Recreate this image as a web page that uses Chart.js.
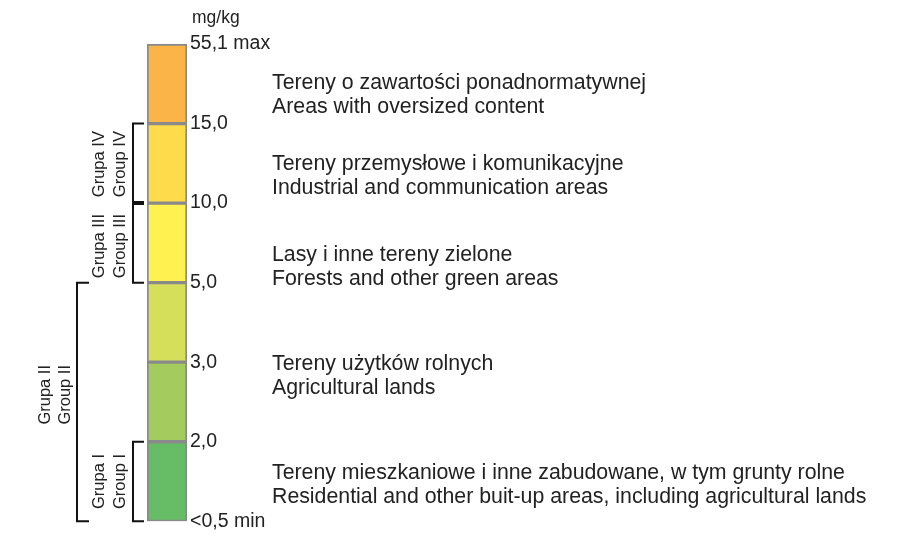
<!DOCTYPE html>
<html>
<head>
<meta charset="utf-8">
<script src="https://cdn.jsdelivr.net/npm/chart.js@4.4.1/dist/chart.umd.min.js"></script>
<style>
  html, body { margin: 0; padding: 0; background: #ffffff; }
  #wrap { width: 905px; height: 536px; position: relative; }
</style>
</head>
<body>
<div id="wrap"><canvas id="scale"></canvas></div>
<script>
// Klassen (von unten nach oben), jede Klasse gleich hoch
const bandNames  = ['< 2,0', '2,0–3,0', '3,0–5,0', '5,0–10,0', '10,0–15,0', '15,0–55,1'];
const bandHeight = [1, 1, 1, 1, 1, 1];
const bandColors = ['#67bd66', '#a3cb5e', '#d5df5a', '#fff250', '#fedb4a', '#fbb546'];

// Beschriftung der Grenzen (Index = Wert auf der y-Achse)
const tickLabels = ['<0,5 min', '2,0', '3,0', '5,0', '10,0', '15,0', '55,1 max'];

// Beschreibungen rechts (Position in Achsen-Einheiten)
const descPL = [
  'Tereny mieszkaniowe i inne zabudowane, w tym grunty rolne',
  'Tereny użytków rolnych',
  'Lasy i inne tereny zielone',
  'Tereny przemysłowe i komunikacyjne',
  'Tereny o zawartości ponadnormatywnej'
];
const descEN = [
  'Residential and other buit-up areas, including agricultural lands',
  'Agricultural lands',
  'Forests and other green areas',
  'Industrial and communication areas',
  'Areas with oversized content'
];
const descAt = [0.46, 1.83, 3.2, 4.34, 5.36];

// Gruppen (Klammern links)
const groupPL   = ['Grupa I', 'Grupa II', 'Grupa III', 'Grupa IV'];
const groupEN   = ['Group I', 'Group II', 'Group III', 'Group IV'];
const groupFrom = [0, 0, 3, 4];
const groupTo   = [1, 3, 4, 5];
const groupAt   = [0.5, 1.59, 3.46, 4.49];

// Layout der Klammern (Pixel)
const BRACKET = {
  inner: { x: 133, tip: 144, textPL: 99, textEN: 120 },
  outer: { x: 77,  tip: 89,  textPL: 45, textEN: 65 }
};

const FONT = '"Liberation Sans", Arial, sans-serif';

const annotations = {
  id: 'annotations',
  afterDraw(chart) {
    const ctx = chart.ctx;
    const y = chart.scales.y;
    ctx.save();
    ctx.fillStyle = '#222222';

    // Einheit
    ctx.font = '17.5px ' + FONT;
    ctx.textAlign = 'left';
    ctx.textBaseline = 'middle';
    ctx.fillText('mg/kg', 192, 18);

    // Beschreibungen
    ctx.font = '21.3px ' + FONT;
    descPL.forEach((t, i) => {
      const cy = y.getPixelForValue(descAt[i]);
      ctx.fillText(t, 272, cy - 12);
      ctx.fillText(descEN[i], 272, cy + 12);
    });

    // Klammern + Gruppen
    ctx.strokeStyle = '#111111';
    ctx.lineWidth = 2;
    groupPL.forEach((g, i) => {
      const b = i === 1 ? BRACKET.outer : BRACKET.inner;
      const y0 = y.getPixelForValue(groupTo[i]) + (i === 2 ? 1 : 0);
      const y1 = y.getPixelForValue(groupFrom[i]) - (i === 3 ? 1 : 0);
      ctx.beginPath();
      ctx.moveTo(b.tip, y0);
      ctx.lineTo(b.x, y0);
      ctx.lineTo(b.x, y1);
      ctx.lineTo(b.tip, y1);
      ctx.stroke();

      const cy = y.getPixelForValue(groupAt[i]);
      ctx.font = '16.5px ' + FONT;
      ctx.textAlign = 'center';
      ctx.textBaseline = 'middle';
      [[g, b.textPL], [groupEN[i], b.textEN]].forEach(([txt, x]) => {
        ctx.save();
        ctx.translate(x, cy);
        ctx.rotate(-Math.PI / 2);
        ctx.fillText(txt, 0, 0);
        ctx.restore();
      });
    });
    ctx.restore();
  }
};

new Chart(document.getElementById('scale'), {
  type: 'bar',
  data: {
    labels: ['mg/kg'],
    datasets: bandNames.map((name, i) => ({
      label: name,
      data: [bandHeight[i]],
      backgroundColor: bandColors[i],
      borderColor: '#8a8a8a',
      borderWidth: 2,
      borderSkipped: false,
      categoryPercentage: 1,
      barPercentage: 1
    }))
  },
  options: {
    responsive: true,
    maintainAspectRatio: false,
    animation: false,
    layout: { padding: { left: 147, top: 44, bottom: 12, right: 0 } },
    plugins: { legend: { display: false }, tooltip: { enabled: false } },
    scales: {
      x: { stacked: true, display: false },
      y: {
        stacked: true,
        position: 'right',
        min: 0,
        max: 6,
        afterFit: s => { s.width = 718; },
        afterBuildTicks: s => { s.ticks = tickLabels.map((_, i) => ({ value: i })); },
        grid: { display: false, drawTicks: false },
        border: { display: false },
        ticks: {
          padding: 3,
          color: '#222222',
          font: { family: FONT, size: 19.5 },
          callback: v => tickLabels[v]
        }
      }
    }
  },
  plugins: [annotations]
});
</script>
</body>
</html>
